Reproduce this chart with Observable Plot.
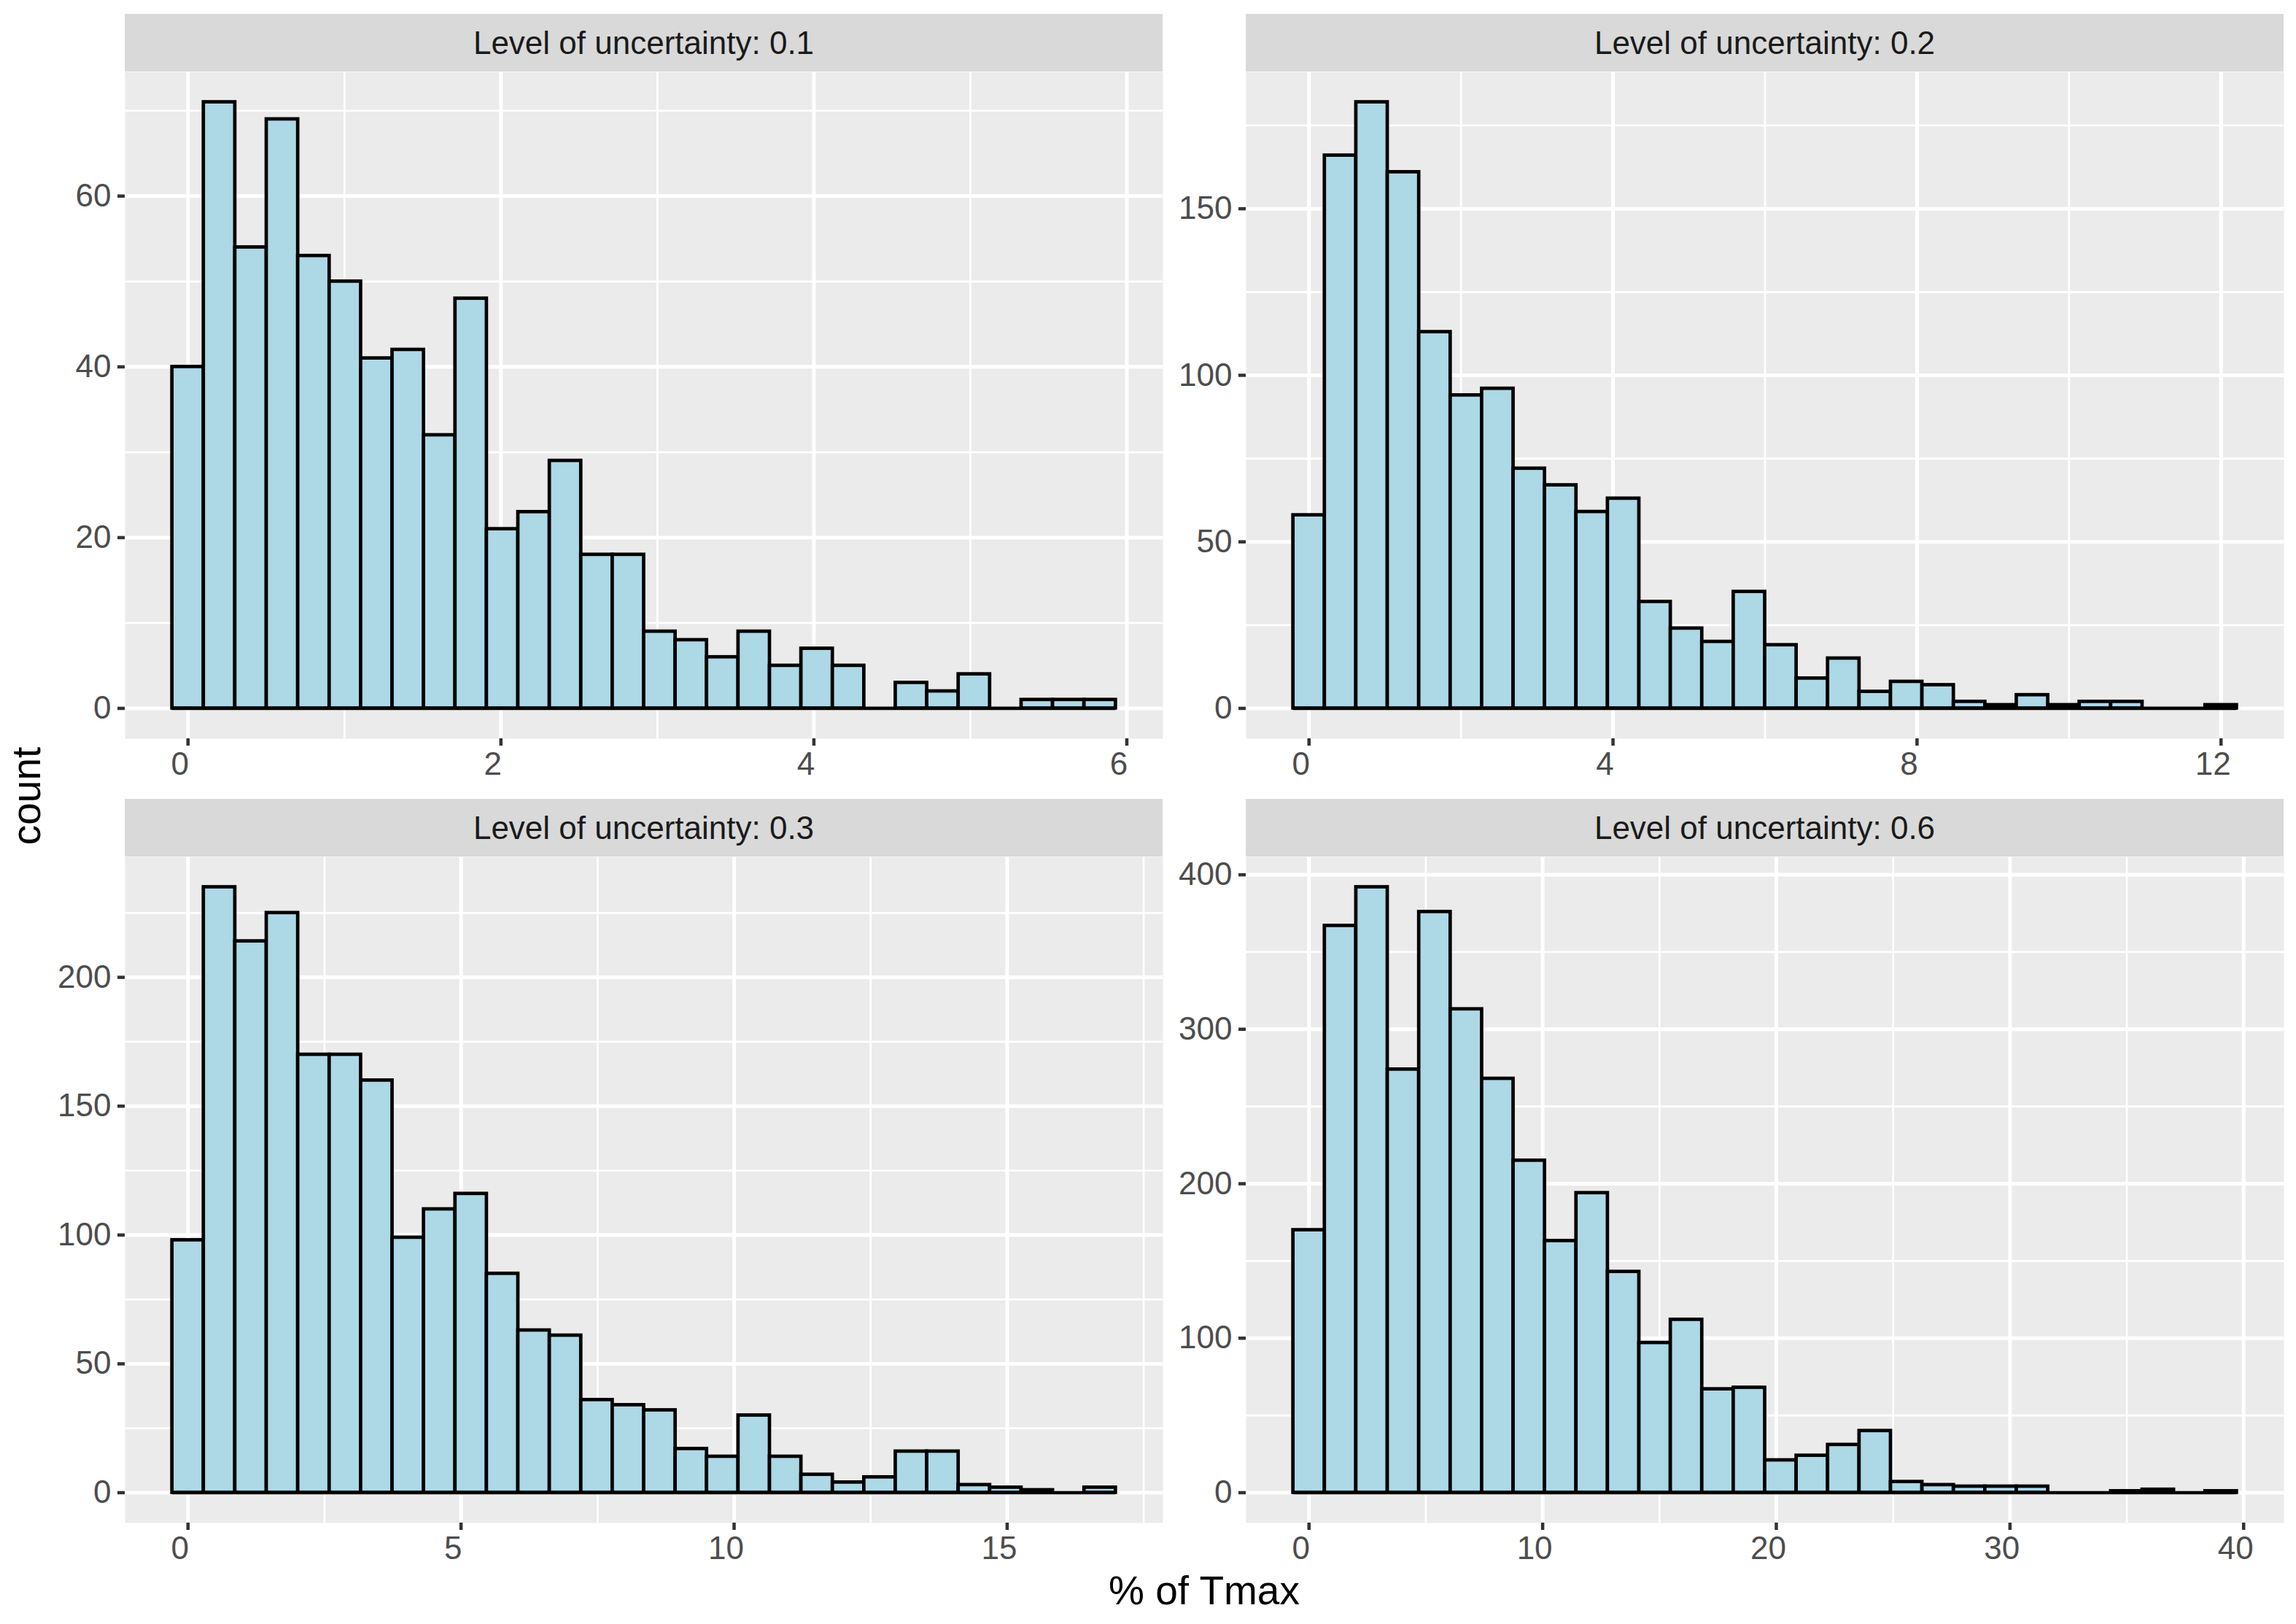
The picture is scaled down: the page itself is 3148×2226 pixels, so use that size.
<!DOCTYPE html>
<html>
<head>
<meta charset="utf-8">
<script src="https://cdn.jsdelivr.net/npm/d3@7"></script>
<script src="https://cdn.jsdelivr.net/npm/@observablehq/plot@0.6"></script>
<style>
  html, body { margin: 0; padding: 0; background: #ffffff; }
  #chart { position: relative; width: 3148px; height: 2226px; background: #ffffff; font-family: "Liberation Sans", Arial, Helvetica, sans-serif; overflow: hidden; }
  .strip { position: absolute; background: #D9D9D9; color: #1A1A1A; font-size: 44px; text-align: center; }
  .panel { position: absolute; }
  .axtitle { position: absolute; color: #000000; font-size: 55px; line-height: 55px; white-space: nowrap; }
</style>
</head>
<body>
<div id="chart"></div>
<script>
// ---- data ----
const stripLabels = ["Level of uncertainty: 0.1", "Level of uncertainty: 0.2", "Level of uncertainty: 0.3", "Level of uncertainty: 0.6"];

const counts01 = [40, 71, 54, 69, 53, 50, 41, 42, 32, 48, 21, 23, 29, 18, 18, 9, 8, 6, 9, 5, 7, 5, 0, 3, 2, 4, 0, 1, 1, 1];
const counts02 = [58, 166, 182, 161, 113, 94, 96, 72, 67, 59, 63, 32, 24, 20, 35, 19, 9, 15, 5, 8, 7, 2, 1, 4, 1, 2, 2, 0, 0, 1];
const counts03 = [98, 235, 214, 225, 170, 170, 160, 99, 110, 116, 85, 63, 61, 36, 34, 32, 17, 14, 30, 14, 7, 4, 6, 16, 16, 3, 2, 1, 0, 2];
const counts06 = [170, 367, 392, 274, 376, 313, 268, 215, 163, 194, 143, 97, 112, 67, 68, 21, 24, 31, 40, 7, 5, 4, 4, 4, 0, 0, 1, 2, 0, 1];

// bin widths (first bin centred at 0)
const binWidths = [0.201, 0.4138, 0.5759, 1.346];

const xTicks = [[0, 2, 4, 6], [0, 4, 8, 12], [0, 5, 10, 15], [0, 10, 20, 30, 40]];
const xMinor = [[1, 3, 5], [2, 6, 10], [2.5, 7.5, 12.5, 17.5], [5, 15, 25, 35]];
const yTicks = [[0, 20, 40, 60], [0, 50, 100, 150], [0, 50, 100, 150, 200], [0, 100, 200, 300, 400]];
const yMinor = [[10, 30, 50, 70], [25, 75, 125, 175], [25, 75, 125, 175, 225], [50, 150, 250, 350]];

const xTitle = "% of Tmax";
const yTitle = "count";

// ---- layout ----
const allCounts = [counts01, counts02, counts03, counts06];
const PW = 1423;
const panelPos = [
  {left: 171, top: 98, h: 914},
  {left: 1708, top: 98, h: 914},
  {left: 171, top: 1174, h: 913},
  {left: 1708, top: 1174, h: 913}
];
const STRIP_H = 79;
const ML = 150, MB = 90;
const FONT = '"Liberation Sans", Arial, Helvetica, sans-serif';

const chart = document.getElementById("chart");

allCounts.forEach((counts, p) => {
  const w = binWidths[p];
  const bins = counts.map((c, i) => ({x1: i * w - w / 2, x2: i * w + w / 2, count: c}));
  const lo = bins[0].x1, hi = bins[bins.length - 1].x2;
  const pad = 0.05 * (hi - lo);
  const ymax = d3.max(counts);
  const pos = panelPos[p];

  const svg = Plot.plot({
    width: ML + PW,
    height: pos.h + MB,
    marginLeft: ML,
    marginRight: 0,
    marginTop: 0,
    marginBottom: MB,
    style: {fontFamily: FONT, fontSize: "44px", background: "transparent", overflow: "visible", maxWidth: "none"},
    x: {domain: [lo - pad, hi + pad]},
    y: {domain: [-0.05 * ymax, 1.05 * ymax]},
    marks: [
      Plot.frame({fill: "#EBEBEB", stroke: "none"}),
      Plot.gridX(xMinor[p], {stroke: "#ffffff", strokeOpacity: 1, strokeWidth: 2.7}),
      Plot.gridY(yMinor[p], {stroke: "#ffffff", strokeOpacity: 1, strokeWidth: 2.7}),
      Plot.gridX(xTicks[p], {stroke: "#ffffff", strokeOpacity: 1, strokeWidth: 5}),
      Plot.gridY(yTicks[p], {stroke: "#ffffff", strokeOpacity: 1, strokeWidth: 5}),
      Plot.ruleY([0], {x1: lo, x2: hi, stroke: "#000000", strokeWidth: 4.7}),
      Plot.rect(bins, {x1: "x1", x2: "x2", y1: 0, y2: "count", fill: "#ADD8E6", stroke: "#000000", strokeWidth: 4.7}),
      // x tick marks
      Plot.axisX({ticks: xTicks[p], tickSize: 10, stroke: "#333333", strokeWidth: 4.5, text: null, label: null}),
      // x tick labels (slightly left of the ticks, as in the reference)
      Plot.axisX({ticks: xTicks[p], tickSize: 0, tickPadding: 18, stroke: "none", fill: "#4D4D4D", fontSize: 44, dx: -11, label: null, tickFormat: d => String(d)}),
      Plot.axisY({ticks: yTicks[p], tickSize: 10, tickPadding: 9, stroke: "#333333", strokeWidth: 4.5, fill: "#4D4D4D", fontSize: 44, label: null, tickFormat: d => String(d)})
    ]
  });
  const holder = document.createElement("div");
  holder.className = "panel";
  holder.style.left = (pos.left - ML) + "px";
  holder.style.top = pos.top + "px";
  holder.appendChild(svg);
  chart.appendChild(holder);

  const strip = document.createElement("div");
  strip.className = "strip";
  strip.style.left = pos.left + "px";
  strip.style.top = (pos.top - STRIP_H) + "px";
  strip.style.width = PW + "px";
  strip.style.height = STRIP_H + "px";
  strip.style.lineHeight = STRIP_H + "px";
  strip.textContent = stripLabels[p];
  chart.appendChild(strip);
});

// axis titles
const xt = document.createElement("div");
xt.className = "axtitle";
xt.textContent = xTitle;
xt.style.left = "1651px";
xt.style.top = "2153px";
xt.style.transform = "translateX(-50%)";
chart.appendChild(xt);

const yt = document.createElement("div");
yt.className = "axtitle";
yt.textContent = yTitle;
yt.style.left = "36px";
yt.style.top = "1091px";
yt.style.transform = "translate(-50%, -50%) rotate(-90deg)";
chart.appendChild(yt);
</script>
</body>
</html>
